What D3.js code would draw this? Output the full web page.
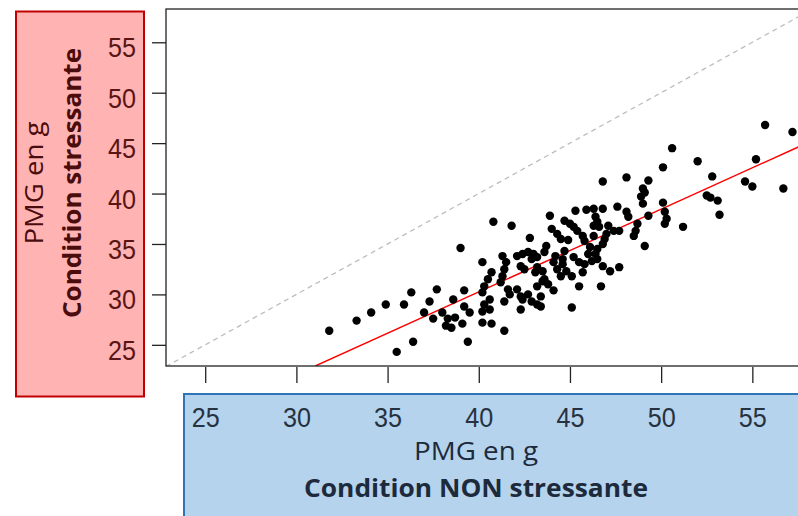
<!DOCTYPE html>
<html>
<head>
<meta charset="utf-8">
<script src="https://cdn.jsdelivr.net/npm/d3@7"></script>
<style>
  body { margin: 0; background: #fff; }
  svg { display: block; }
</style>
</head>
<body>
<svg id="chart" width="798" height="516"></svg>
<script>
// PMG (g) under non stressed condition (x) vs stressed condition (y)
const nonStress = [
  31.8, 33.3, 34.1, 34.9, 35.9, 36.3, 37.3, 37.7, 37.0, 37.5, 35.5, 36.4,
  38.0, 38.3, 38.2, 38.5, 38.7, 38.6, 39.2, 39.2, 39.5, 39.1, 39.4, 39.0,
  40.2, 40.2, 40.7, 40.2, 40.3, 40.6, 40.6, 40.2, 40.3, 40.5, 40.7, 40.8, 41.4,
  41.8, 42.8, 41.3, 41.5, 41.4, 41.3, 41.2, 42.1, 42.4, 42.7, 43.0, 43.2, 42.3, 42.5, 42.9,
  43.2, 43.1, 41.6, 41.7, 41.4, 42.1, 42.3, 42.4, 42.7, 42.9, 43.2, 43.4, 43.2, 42.3, 43.4,
  43.9, 43.5, 43.6, 43.7, 43.6, 44.0, 44.3, 44.5, 44.1, 44.2, 44.6, 44.6, 44.3, 44.5, 43.5,
  43.8, 44.1, 44.7, 45.0, 45.2, 45.4, 45.7, 45.8, 44.9, 44.7, 45.2, 45.3, 45.9, 46.3, 46.8,
  47.6, 48.1, 46.4, 46.5, 46.6, 46.3, 47.0, 47.4, 47.7, 46.1, 46.0, 46.2, 45.8, 45.7, 45.5,
  44.8, 45.1, 46.8, 47.2, 47.7, 45.5, 46.7, 45.1, 46.8, 48.1, 49.3, 50.1,
  49.0, 49.1, 48.9, 49.0, 50.1, 50.2, 50.3, 50.2, 49.3, 48.2, 48.7, 48.6, 48.5, 49.1,
  47.1, 46.9, 46.8, 46.5, 46.4, 46.5, 46.3,
  50.6, 55.7, 57.2, 52.0, 55.2, 52.8, 54.6, 55.0, 56.7, 52.5, 52.7, 53.1, 53.2, 51.2
]
const stress = [
  26.4, 27.4, 28.2, 29.0, 29.0, 30.2, 29.3, 30.5, 28.2, 27.6, 24.3, 25.3,
  28.2, 27.6, 26.9, 26.7, 27.7, 29.5, 30.4, 28.8, 28.2, 27.1, 25.3, 34.6,
  33.2, 27.2, 27.1, 28.3, 29.0, 28.5, 29.5, 30.2, 30.8, 31.5, 32.2, 37.2, 26.4,
  36.8, 35.6, 33.8, 33.2, 32.5, 31.8, 31.2, 33.8, 34.0, 34.2, 34.0, 33.7, 32.8, 32.5, 33.5,
  32.7, 32.2, 30.5, 30.0, 29.3, 30.5, 29.8, 29.5, 30.0, 29.3, 29.0, 29.8, 30.8, 28.5, 28.8,
  37.8, 32.3, 31.5, 34.8, 34.2, 36.5, 36.0, 35.5, 33.2, 33.8, 33.5, 33.0, 32.5, 31.8, 31.3,
  31.0, 30.4, 37.3, 37.0, 36.7, 36.3, 35.8, 35.3, 35.4, 34.3, 33.7, 38.3, 38.4, 38.5, 38.5,
  38.7, 38.2, 37.7, 37.2, 36.7, 36.8, 36.0, 36.3, 36.3, 34.7, 34.0, 33.3, 33.0, 32.2, 33.2,
  32.3, 31.8, 32.8, 32.3, 32.7, 30.8, 30.8, 28.7, 41.2, 41.6, 41.3, 42.6,
  40.5, 40.1, 39.7, 39.0, 39.1, 38.2, 37.5, 37.0, 37.8, 37.7, 37.0, 36.3, 35.8, 34.8,
  36.8, 35.5, 35.0, 34.5, 34.0, 33.5, 35.8,
  44.5, 46.8, 46.1, 43.2, 43.4, 41.7, 41.2, 40.7, 40.5, 39.8, 39.6, 39.3, 37.9, 36.7
]

// regression line (red): stress = intercept + slope * nonStress
const fitIntercept = -2.55
const fitSlope = 0.82

const xTicks = [25, 30, 35, 40, 45, 50, 55]
const yTicks = [25, 30, 35, 40, 45, 50, 55]
const xDomain = [22.85, 58.6]
const yDomain = [22.9, 58.3]

const points = nonStress.map((v, i) => ({ x: v, y: stress[i] }))

const svg = d3.select('#chart')

// scales, plot box is cut by the right edge of the picture
const x = d3.scaleLinear().domain(xDomain).range([166, 818])
const y = d3.scaleLinear().domain(yDomain).range([366, 9])

// coloured label panels behind the axes
svg.append('rect')
  .attr('x', 16).attr('y', 11.5)
  .attr('width', 128).attr('height', 385)
  .attr('fill', '#ffb3b3')
  .attr('stroke', '#c00000')
  .attr('stroke-width', 2)

svg.append('rect')
  .attr('x', 184).attr('y', 394)
  .attr('width', 700).attr('height', 200)
  .attr('fill', '#b5d3ed')
  .attr('stroke', '#2e75b6')
  .attr('stroke-width', 2)

svg.append('clipPath').attr('id', 'plotclip')
  .append('rect')
  .attr('x', x(xDomain[0])).attr('y', y(yDomain[1]))
  .attr('width', x(xDomain[1]) - x(xDomain[0]))
  .attr('height', y(yDomain[0]) - y(yDomain[1]))

const plot = svg.append('g').attr('clip-path', 'url(#plotclip)')

// y = x reference line
plot.append('line')
  .attr('x1', x(xDomain[0])).attr('y1', y(xDomain[0]))
  .attr('x2', x(xDomain[1])).attr('y2', y(xDomain[1]))
  .attr('stroke', '#bdbdbd')
  .attr('stroke-width', 1.3)
  .attr('stroke-dasharray', '5,4')

// fitted line
const fitStart = (yDomain[0] - fitIntercept) / fitSlope
plot.append('line')
  .attr('x1', x(fitStart)).attr('y1', y(fitIntercept + fitSlope * fitStart))
  .attr('x2', x(xDomain[1])).attr('y2', y(fitIntercept + fitSlope * xDomain[1]))
  .attr('stroke', '#ff0000')
  .attr('stroke-width', 1.4)

plot.selectAll('circle')
  .data(points)
  .enter()
  .append('circle')
  .attr('cx', d => x(d.x))
  .attr('cy', d => y(d.y))
  .attr('r', 4.2)
  .attr('fill', '#000')

// frame of the plot
svg.append('rect')
  .attr('x', x(xDomain[0])).attr('y', y(yDomain[1]))
  .attr('width', x(xDomain[1]) - x(xDomain[0]))
  .attr('height', y(yDomain[0]) - y(yDomain[1]))
  .attr('fill', 'none')
  .attr('stroke', '#222')
  .attr('stroke-width', 1.3)

// y axis
const yAxis = svg.append('g')
  .attr('transform', 'translate(' + x(xDomain[0]) + ',0)')
  .call(d3.axisLeft(y).tickValues(yTicks).tickSize(14).tickPadding(16))
yAxis.select('.domain').remove()
yAxis.selectAll('line').attr('stroke', '#222').attr('stroke-width', 1.3)
yAxis.selectAll('text')
  .attr('dy', '0.52em')
  .attr('font-family', "'Liberation Sans', Arial, sans-serif")
  .attr('font-size', 28)
  .attr('fill', '#5a1515')
  .attr('textLength', 28)
  .attr('lengthAdjust', 'spacingAndGlyphs')

// x axis
const xAxis = svg.append('g')
  .attr('transform', 'translate(0,' + (y(yDomain[0]) + 1) + ')')
  .call(d3.axisBottom(x).tickValues(xTicks).tickSize(16))
xAxis.select('.domain').remove()
xAxis.selectAll('line').attr('stroke', '#222').attr('stroke-width', 1.3)
xAxis.selectAll('text')
  .attr('y', 60)
  .attr('dy', 0)
  .attr('font-family', "'Liberation Sans', Arial, sans-serif")
  .attr('font-size', 28)
  .attr('fill', '#263240')
  .attr('textLength', 28)
  .attr('lengthAdjust', 'spacingAndGlyphs')

// axis titles
const titleFont = "'Open Sans', 'Noto Sans', sans-serif"

svg.append('text')
  .attr('x', 476).attr('y', 460)
  .attr('text-anchor', 'middle')
  .attr('font-family', titleFont)
  .attr('font-size', 26)
  .attr('fill', '#1c2a3c')
  .attr('textLength', 124)
  .attr('lengthAdjust', 'spacingAndGlyphs')
  .text('PMG en g')

svg.append('text')
  .attr('x', 476).attr('y', 497)
  .attr('text-anchor', 'middle')
  .attr('font-family', titleFont)
  .attr('font-weight', 'bold')
  .attr('font-size', 25)
  .attr('fill', '#1c2a3c')
  .attr('textLength', 344)
  .attr('lengthAdjust', 'spacingAndGlyphs')
  .text('Condition NON stressante')

svg.append('text')
  .attr('transform', 'translate(43,183) rotate(-90)')
  .attr('text-anchor', 'middle')
  .attr('font-family', titleFont)
  .attr('font-size', 26)
  .attr('fill', '#4a0c0c')
  .attr('textLength', 123)
  .attr('lengthAdjust', 'spacingAndGlyphs')
  .text('PMG en g')

svg.append('text')
  .attr('transform', 'translate(81,183) rotate(-90)')
  .attr('text-anchor', 'middle')
  .attr('font-family', titleFont)
  .attr('font-weight', 'bold')
  .attr('font-size', 25)
  .attr('fill', '#4a0c0c')
  .attr('textLength', 270)
  .attr('lengthAdjust', 'spacingAndGlyphs')
  .text('Condition stressante')
</script>
</body>
</html>
